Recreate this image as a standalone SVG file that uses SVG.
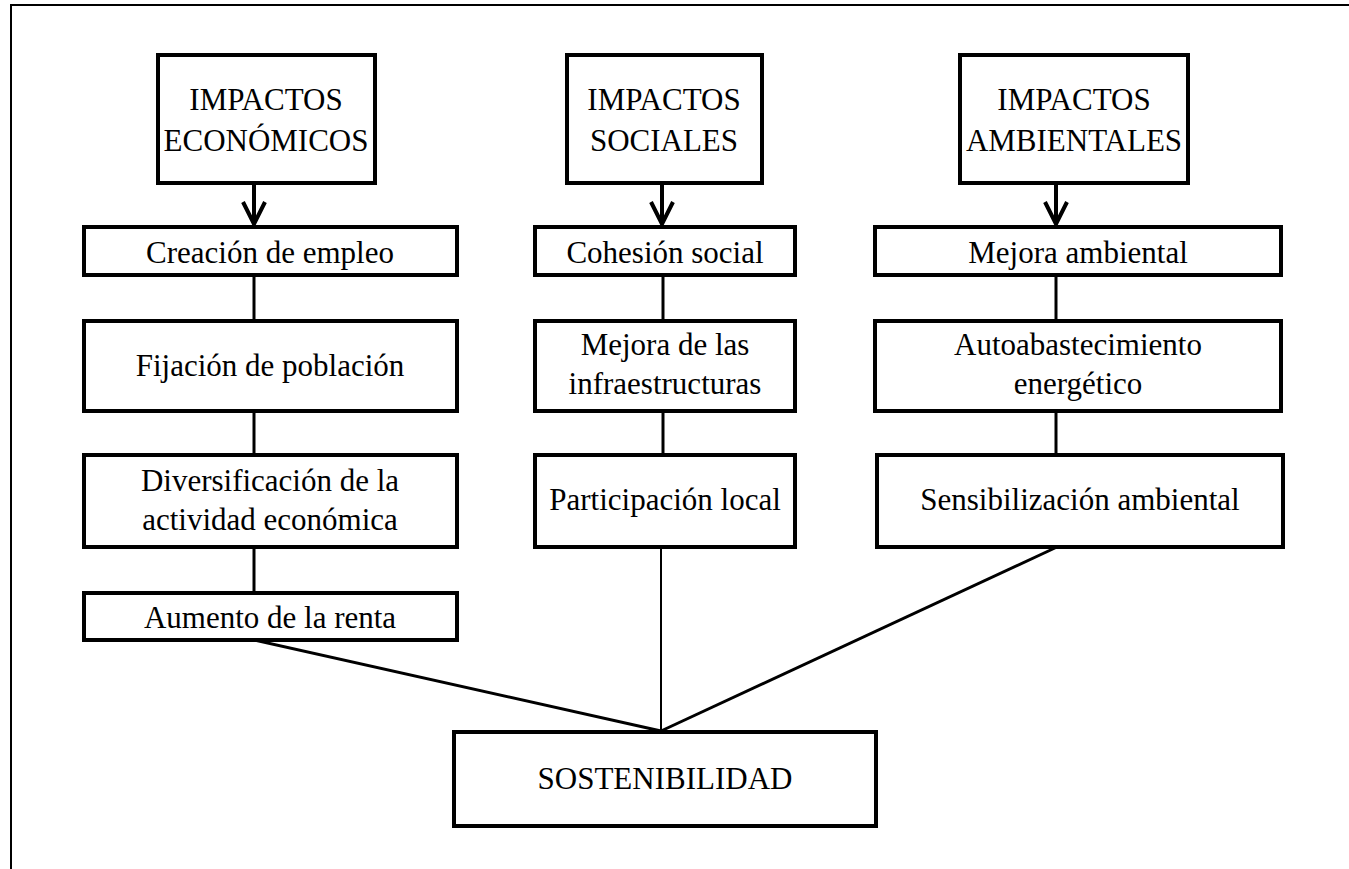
<svg xmlns="http://www.w3.org/2000/svg" width="1349" height="869" viewBox="0 0 1349 869">
<style>
.box{fill:#fff;stroke:#000;stroke-width:4;}
.t{font-family:"Liberation Serif","Times New Roman",serif;font-size:31px;fill:#000;text-anchor:middle;}
.c{stroke:#000;stroke-width:3;fill:none;}
.thin{stroke:#000;stroke-width:2;fill:none;}
.arr{stroke:#000;stroke-width:4;fill:none;}
</style>
<rect x="0" y="0" width="1349" height="869" fill="#fff"/>
<g id="frame">
<line x1="10" y1="5" x2="1349" y2="5" stroke="#000" stroke-width="2"/>
<line x1="11" y1="5" x2="11" y2="869" stroke="#000" stroke-width="2"/>
</g>
<g id="connectors">
<path class="arr" d="M254 183 V224 M243 202 L254 224 L265 202"/>
<path class="arr" d="M662 183 V224 M651 202 L662 224 L673 202"/>
<path class="arr" d="M1056 183 V224 M1045 202 L1056 224 L1067 202"/>
<line class="c" x1="254" y1="275" x2="254" y2="321"/>
<line class="c" x1="254" y1="411" x2="254" y2="455"/>
<line class="c" x1="254" y1="547" x2="254" y2="593"/>
<line class="c" x1="663" y1="275" x2="663" y2="321"/>
<line class="c" x1="663" y1="411" x2="663" y2="455"/>
<line class="c" x1="1056" y1="275" x2="1056" y2="321"/>
<line class="c" x1="1056" y1="411" x2="1056" y2="455"/>
<line class="c" x1="254" y1="640" x2="661" y2="731"/>
<line class="thin" x1="661" y1="547" x2="661" y2="731"/>
<line class="c" x1="1057" y1="547" x2="661" y2="731"/>
</g>
<g id="n-eco">
<rect class="box" x="158" y="55" width="217" height="128"/>
<text class="t" x="266" y="110">IMPACTOS</text>
<text class="t" x="266" y="151">ECONÓMICOS</text>
</g>
<g id="n-soc">
<rect class="box" x="567" y="55" width="195" height="128"/>
<text class="t" x="664" y="110">IMPACTOS</text>
<text class="t" x="664" y="151">SOCIALES</text>
</g>
<g id="n-amb">
<rect class="box" x="960" y="55" width="228" height="128"/>
<text class="t" x="1074" y="110">IMPACTOS</text>
<text class="t" x="1074" y="151">AMBIENTALES</text>
</g>
<g id="n-creacion">
<rect class="box" x="84" y="227" width="373" height="48"/>
<text class="t" x="270" y="263">Creación de empleo</text>
</g>
<g id="n-cohesion">
<rect class="box" x="535" y="227" width="260" height="48"/>
<text class="t" x="665" y="263">Cohesión social</text>
</g>
<g id="n-mejora-amb">
<rect class="box" x="875" y="227" width="406" height="48"/>
<text class="t" x="1078" y="263">Mejora ambiental</text>
</g>
<g id="n-fijacion">
<rect class="box" x="84" y="321" width="373" height="90"/>
<text class="t" x="270" y="376">Fijación de población</text>
</g>
<g id="n-infra">
<rect class="box" x="535" y="321" width="260" height="90"/>
<text class="t" x="665" y="355">Mejora de las</text>
<text class="t" x="665" y="394">infraestructuras</text>
</g>
<g id="n-autoab">
<rect class="box" x="875" y="321" width="406" height="90"/>
<text class="t" x="1078" y="355">Autoabastecimiento</text>
<text class="t" x="1078" y="394">energético</text>
</g>
<g id="n-divers">
<rect class="box" x="84" y="455" width="373" height="92"/>
<text class="t" x="270" y="491">Diversificación de la</text>
<text class="t" x="270" y="530">actividad económica</text>
</g>
<g id="n-particip">
<rect class="box" x="535" y="455" width="260" height="92"/>
<text class="t" x="665" y="510">Participación local</text>
</g>
<g id="n-sensib">
<rect class="box" x="877" y="455" width="406" height="92"/>
<text class="t" x="1080" y="510">Sensibilización ambiental</text>
</g>
<g id="n-aumento">
<rect class="box" x="84" y="593" width="373" height="47"/>
<text class="t" x="270" y="628">Aumento de la renta</text>
</g>
<g id="n-sost">
<rect class="box" x="454" y="732" width="422" height="94"/>
<text class="t" x="665" y="789">SOSTENIBILIDAD</text>
</g>
</svg>
